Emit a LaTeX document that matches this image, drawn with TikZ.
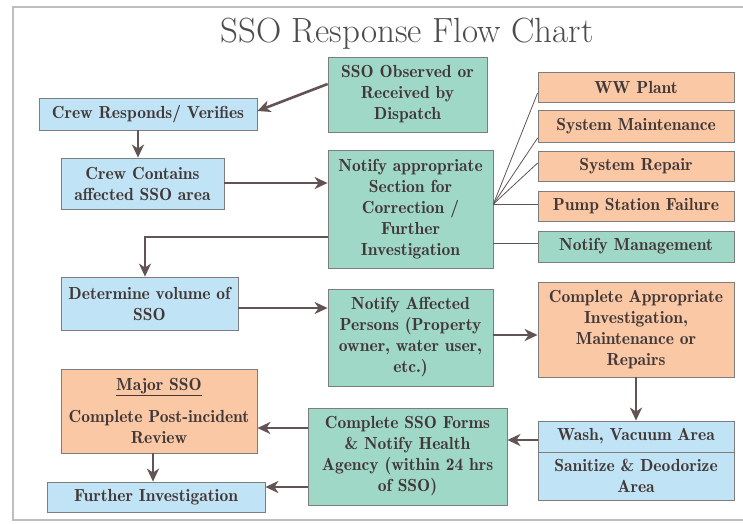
\documentclass[tikz,border=0pt]{standalone}
\usepackage{fontspec}
\newfontfamily\boxfont{lmromandemi10-regular.otf}
\usetikzlibrary{arrows.meta}
\definecolor{blueF}{RGB}{192,228,245}
\definecolor{tealF}{RGB}{160,216,200}
\definecolor{orangeF}{RGB}{250,200,165}
\definecolor{txtC}{RGB}{66,56,56}
\definecolor{arrC}{RGB}{98,84,84}
\definecolor{bordC}{RGB}{125,125,125}
\definecolor{frameC}{RGB}{190,190,190}
\tikzset{
  box/.style={draw=bordC, line width=0.8pt, inner sep=0pt, align=center,
    text=txtC, font=\fontsize{17.5}{21}\selectfont\boxfont},
  arr/.style={draw=arrC, line width=2.6pt, -{Stealth[length=13pt,width=12pt,inset=4pt]}},
  thin/.style={draw=arrC, line width=0.8pt},
}
\begin{document}
\begin{tikzpicture}[x=1pt,y=-1pt]
\useasboundingbox (0,0) rectangle (743,523);
\fill[white] (0,0) rectangle (743,523);
\draw[frameC, line width=1.2pt] (743,7) -- (13,7) -- (13,520) -- (743,520);
\node[font=\fontsize{35}{40}\selectfont, text=black!70, anchor=base] (title) at (407,42) {SSO Response Flow Chart};

% nodes
\node[box, fill=tealF, minimum width=159pt, minimum height=75pt] (obs) at (407.5,94.5) {SSO Observed or\\Received by\\Dispatch};
\node[box, fill=blueF, minimum width=218pt, minimum height=32pt] (crewR) at (148,114) {Crew Responds/ Verifies};
\node[box, fill=blueF, minimum width=163pt, minimum height=51pt] (crewC) at (142.5,183.5) {Crew Contains\\affected SSO area};
\node[box, fill=tealF, minimum width=165pt, minimum height=118pt] (notA) at (410.5,209) {Notify appropriate\\Section for\\Correction /\\Further\\Investigation};
\node[box, fill=orangeF, minimum width=196pt, minimum height=30pt] (ww) at (636,87) {WW Plant};
\node[box, fill=orangeF, minimum width=196pt, minimum height=32pt] (sysM) at (636,126) {System Maintenance};
\node[box, fill=orangeF, minimum width=196pt, minimum height=30pt] (sysR) at (636,166) {System Repair};
\node[box, fill=orangeF, minimum width=196pt, minimum height=30pt] (pump) at (636,206) {Pump Station Failure};
\node[box, fill=tealF, minimum width=196pt, minimum height=31pt] (mgmt) at (636,246.5) {Notify Management};
\node[box, fill=blueF, minimum width=177pt, minimum height=53pt] (det) at (149.5,303.5) {Determine volume of\\SSO};
\node[box, fill=tealF, minimum width=165pt, minimum height=97pt] (notP) at (410.5,337.5) {Notify Affected\\Persons (Property\\owner, water user,\\etc.)};
\node[box, fill=orangeF, minimum width=196pt, minimum height=95pt] (compA) at (636,329.5) {Complete Appropriate\\Investigation,\\Maintenance or\\Repairs};
\node[box, fill=orangeF, minimum width=196pt, minimum height=84pt] (major) at (159,411) {\underline{Major SSO}\\[11pt]Complete Post-incident\\Review};
\node[box, fill=tealF, minimum width=199pt, minimum height=97pt] (forms) at (407.5,456.5) {Complete SSO Forms\\\& Notify Health\\Agency (within 24 hrs\\of SSO)};
\node[box, fill=blueF, minimum width=196pt, minimum height=31pt] (wash) at (636,436.5) {Wash, Vacuum Area};
\node[box, fill=blueF, minimum width=196pt, minimum height=48pt] (sanit) at (636,476) {Sanitize \& Deodorize\\Area};
\node[box, fill=blueF, minimum width=218pt, minimum height=30pt] (further) at (156,497) {Further Investigation};

% thin connectors
\coordinate (conv) at (notA.east |- 0,204);
\draw[thin] (conv) -- (ww.west |- 0,93);
\draw[thin] (conv) -- (sysM.west |- 0,138);
\draw[thin] (conv) -- (sysR.west |- 0,163);
\draw[thin] (conv) -- (pump.west |- 0,204);
\draw[thin] (notA.east |- 0,243) -- (mgmt.west |- 0,243);

% arrows
\draw[arr] (obs.west |- 0,84) -- (crewR.east |- 0,111);
\draw[arr] ([xshift=-10pt]crewR.south) -- ([xshift=-10pt]crewR.south |- crewC.north);
\draw[arr] (crewC.east |- 0,183) -- (notA.west |- 0,183);
\draw[arr] (notA.west |- 0,237) -| ([xshift=-4.5pt]det.north);
\draw[arr] (det.east |- 0,308) -- (notP.west |- 0,308);
\draw[arr] (notP.east |- 0,335) -- (compA.west |- 0,335);
\draw[arr] (compA.south) -- (wash.north);
\draw[arr] (wash.west |- 0,440) -- (forms.east |- 0,440);
\draw[arr] (forms.west |- 0,428) -- (major.east |- 0,428);
\draw[arr] (forms.west |- 0,487) -- (further.east |- 0,487);
\draw[arr] ([xshift=-6pt]major.south) -- ([xshift=-6pt]major.south |- further.north);
\end{tikzpicture}
\end{document}
